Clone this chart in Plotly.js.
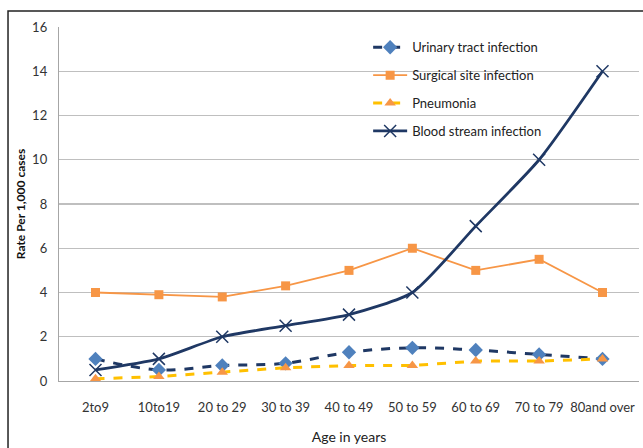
<!DOCTYPE html>
<html><head><meta charset="utf-8">
<script src="https://cdn.plot.ly/plotly-3.0.1.min.js"></script>
<style>
html,body{margin:0;padding:0;background:#fff;overflow:hidden}
#chart{position:absolute;left:0;top:0;width:643px;height:448px}
</style></head><body>
<div id="chart"></div>
<script>
var categories = ["2to9","10to19","20 to 29","30 to 39","40 to 49","50 to 59","60 to 69","70 to 79","80and over"];
var urinary = [1.0, 0.5, 0.7, 0.8, 1.3, 1.5, 1.4, 1.2, 1.0];
var surgical = [4.0, 3.9, 3.8, 4.3, 5.0, 6.0, 5.0, 5.5, 4.0];
var pneumonia = [0.1, 0.2, 0.4, 0.6, 0.7, 0.7, 0.9, 0.9, 1.0];
var blood = [0.5, 1.0, 2.0, 2.5, 3.0, 4.0, 7.0, 10.0, 14.0];

var traces = [
 {x:categories, y:urinary, name:"Urinary tract infection", mode:"lines+markers", legendgroup:"a",
  line:{color:"#1f3864", width:3, dash:"dash", shape:"spline"},
  marker:{symbol:"diamond", size:11, color:"#4f81bd", line:{color:"#4f81bd", width:0}}},
 {x:categories, y:surgical, name:"Surgical site infection", mode:"lines+markers", legendgroup:"b",
  line:{color:"#f79646", width:1.8},
  marker:{symbol:"square", size:9, color:"#f79646"}},
 {x:categories, y:pneumonia, name:"Pneumonia", mode:"lines+markers", legendgroup:"c",
  line:{color:"#ffc000", width:3, dash:"dash"},
  marker:{symbol:"triangle-up", size:10, color:"#f79646"}},
 {x:categories, y:blood, name:"Blood stream infection", mode:"lines+markers", legendgroup:"d",
  line:{color:"#1f3864", width:2.8, shape:"spline", smoothing:0.6},
  marker:{symbol:"x-thin-open", size:12, color:"#1f3864", line:{color:"#1f3864", width:1.5}}}
];

var layout = {
 width:643, height:448,
 margin:{l:59, r:4, t:27, b:67},
 paper_bgcolor:"#fff", plot_bgcolor:"#fff",
 font:{family:"Lato, 'Open Sans', sans-serif", size:13, color:"#333"},
 showlegend:true,
 legend:{x:0.533, y:0.985, xanchor:"left", yanchor:"top", bgcolor:"rgba(0,0,0,0)",
   font:{size:13, color:"#222"}, tracegroupgap:8, itemwidth:34},
 xaxis:{type:"category", showgrid:false, showline:true, linecolor:"#a6a6a6", linewidth:1.2,
   ticks:"", ticklabelstandoff:14, tickfont:{size:13, color:"#333"},
   title:{text:"Age in years", font:{size:14, color:"#222"}, standoff:18}},
 yaxis:{range:[0,16], dtick:2, showgrid:true, gridcolor:"#bfbfbf", gridwidth:1.2,
   showline:true, linecolor:"#a6a6a6", linewidth:1.2, zeroline:false, ticks:"",
   ticklabelstandoff:8, tickfont:{size:13, color:"#333"},
   title:{text:"Rate Per 1,000 cases", font:{size:12, color:"#111", weight:"bold"}, standoff:4}},
 shapes:[{type:"rect", xref:"paper", yref:"paper", x0:-0.0879, x1:1.3, y0:-0.4, y1:1.045,
   line:{color:"#222", width:1.5}, fillcolor:"rgba(0,0,0,0)", layer:"above"}]
};
Plotly.newPlot("chart", traces, layout, {displayModeBar:false, staticPlot:true});
</script></body></html>
